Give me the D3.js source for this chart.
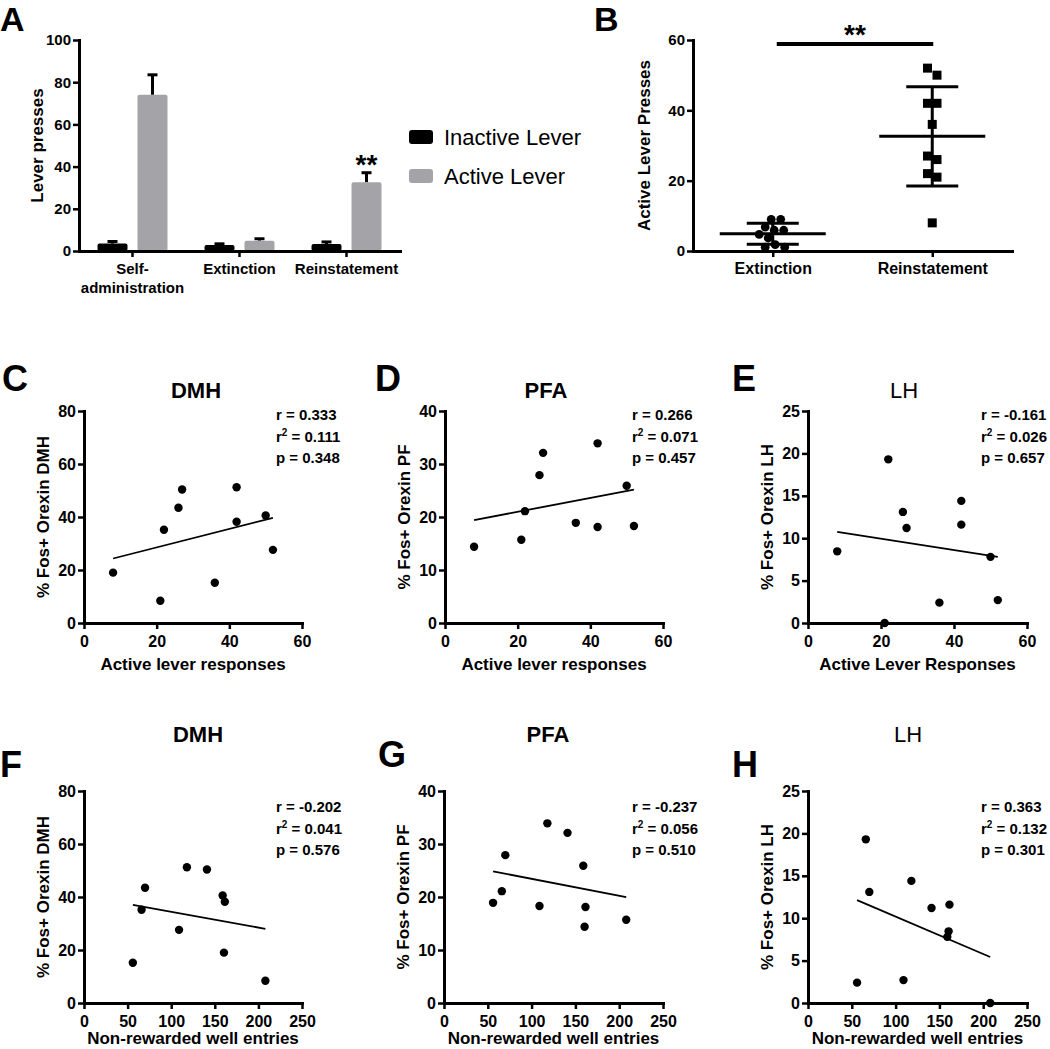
<!DOCTYPE html>
<html><head><meta charset="utf-8">
<script src="https://cdn.jsdelivr.net/npm/d3@7"></script>
<style>
body{margin:0;background:#fff}
svg{display:block}
</style></head><body>
<svg id="c" width="1050" height="1049"></svg>
<script>
// ---------------- DATA ----------------
// Panel A
const barCategories = ["Self-administration", "Extinction", "Reinstatement"];
const barCategoryLines = [["Self-", "administration"], ["Extinction"], ["Reinstatement"]];
const barSeries = ["Inactive Lever", "Active Lever"];
const inactiveMeans = [3.5, 2.8, 3.3];
const inactiveSEM = [1.0, 0.6, 1.0];
const activeMeans = [74, 4.9, 32.6];
const activeSEM = [9.5, 0.9, 4.5];
const barYTicks = [0, 20, 40, 60, 80, 100];
const barYLabel = "Lever presses";

// Panel B
const groupCategories = ["Extinction", "Reinstatement"];
const extinctionPresses = [9, 9, 6.8, 5.9, 5.9, 4.7, 3.7, 1.8, 1.1, 1.1];
const reinstatementPresses = [8, 21, 22, 26, 27, 36, 42, 42, 50, 52];
const groupYTicks = [0, 20, 40, 60];
const groupYLabel = "Active Lever Presses";

// Panels C-H (one value per rat)
const activeLever = [8, 21, 22, 26, 27, 36, 42, 42, 50, 52];
const wellEntries = [160.5, 208, 66, 70, 141, 56, 118, 161.5, 159, 109];
const fosDMH = [19.0, 8.4, 35.2, 43.5, 50.4, 15.2, 51.2, 38.2, 40.6, 27.6];
const fosPF = [14.4, 15.7, 21.1, 27.9, 32.1, 18.9, 33.9, 18.1, 25.9, 18.3];
const fosLH = [8.45, 0, 19.3, 13.1, 11.2, 2.4, 14.4, 11.6, 7.8, 2.7];

const leverTicks = [0, 20, 40, 60];
const wellTicks = [0, 50, 100, 150, 200, 250];
const dmhTicks = [0, 20, 40, 60, 80];
const pfTicks = [0, 10, 20, 30, 40];
const lhTicks = [0, 5, 10, 15, 20, 25];

const scatterLetters = ["C", "D", "E", "F", "G", "H"];
const scatterTitles = ["DMH", "PFA", "LH", "DMH", "PFA", "LH"];
const scatterYLabels = ["% Fos+ Orexin DMH", "% Fos+ Orexin PF", "% Fos+ Orexin LH",
                        "% Fos+ Orexin DMH", "% Fos+ Orexin PF", "% Fos+ Orexin LH"];
const scatterXLabels = ["Active lever responses", "Active lever responses", "Active Lever Responses",
                        "Non-rewarded well entries", "Non-rewarded well entries", "Non-rewarded well entries"];
const statR  = ["0.333", "0.266", "-0.161", "-0.202", "-0.237", "0.363"];
const statR2 = ["0.111", "0.071", "0.026", "0.041", "0.056", "0.132"];
const statP  = ["0.348", "0.457", "0.657", "0.576", "0.510", "0.301"];

// ---------------- LAYOUT / STYLE ----------------
const FONT = '"Liberation Sans", Arial, Helvetica, sans-serif';
const GRAY = "#a4a4a8";
const svg = d3.select("#c").attr("font-family", FONT);

function bold(sel) { return sel.attr("font-weight", "bold"); }

function styleAxis(g, fs) {
  g.attr("font-family", FONT);
  g.select(".domain").attr("stroke", "#000").attr("stroke-width", 3).attr("stroke-linecap", "square");
  g.selectAll(".tick line").attr("stroke", "#000").attr("stroke-width", 2.5);
  g.selectAll(".tick text").attr("fill", "#000").attr("font-size", fs).attr("font-weight", "bold");
}
function letter(t, x, y, fs) {
  bold(svg.append("text").attr("x", x).attr("y", y).attr("font-size", fs || 36)).text(t);
}
function yLabel(t, cx, cy, fs) {
  bold(svg.append("text").attr("transform", `translate(${cx},${cy}) rotate(-90)`)
    .attr("text-anchor", "middle").attr("dy", "0.35em")
    .attr("font-size", fs)).text(t);
}

// ---------------- PANEL A ----------------
(function () {
  const L = 79, R = 400, T = 40, B = 251;
  const x = d3.scaleBand().domain(barCategories).range([L, R]);
  const y = d3.scaleLinear().domain([0, 100]).range([B, T]);
  const bw = 30, off = 20;
  letter("A", 0, 31, 34);

  const g = svg.append("g");
  const series = [
    {name: barSeries[0], means: inactiveMeans, sem: inactiveSEM, color: "#000", dx: -off},
    {name: barSeries[1], means: activeMeans, sem: activeSEM, color: GRAY, dx: off}
  ];
  series.forEach(s => {
    g.selectAll(null).data(barCategories).enter().append("line")
      .attr("x1", c => x(c) + x.bandwidth() / 2 + s.dx).attr("x2", c => x(c) + x.bandwidth() / 2 + s.dx)
      .attr("y1", (c, i) => y(s.means[i])).attr("y2", (c, i) => y(s.means[i] + s.sem[i]))
      .attr("stroke", "#000").attr("stroke-width", 3);
    g.selectAll(null).data(barCategories).enter().append("line")
      .attr("x1", c => x(c) + x.bandwidth() / 2 + s.dx - 5).attr("x2", c => x(c) + x.bandwidth() / 2 + s.dx + 5)
      .attr("y1", (c, i) => y(s.means[i] + s.sem[i])).attr("y2", (c, i) => y(s.means[i] + s.sem[i]))
      .attr("stroke", "#000").attr("stroke-width", 3);
    g.selectAll(null).data(barCategories).enter().append("rect")
      .attr("x", c => x(c) + x.bandwidth() / 2 + s.dx - bw / 2)
      .attr("width", bw)
      .attr("y", (c, i) => y(s.means[i]))
      .attr("height", (c, i) => y(0) - y(s.means[i]))
      .attr("rx", 2)
      .attr("fill", s.color);
  });

  const ya = svg.append("g").attr("transform", `translate(${L},0)`)
    .call(d3.axisLeft(y).tickValues(barYTicks).tickSize(6).tickPadding(2).tickSizeOuter(0));
  styleAxis(ya, 15);
  const xa = svg.append("g").attr("transform", `translate(0,${B})`)
    .call(d3.axisBottom(x).tickSize(6).tickSizeOuter(0).tickFormat(""));
  styleAxis(xa, 15);
  barCategories.forEach((c, i) => {
    const t = bold(svg.append("text").attr("text-anchor", "middle").attr("font-size", 15));
    barCategoryLines[i].forEach((ln, j) => {
      t.append("tspan").attr("x", x(c) + x.bandwidth() / 2).attr("y", 273.5 + j * 19).text(ln);
    });
  });
  yLabel(barYLabel, 37, (T + B) / 2, 17);

  const ci = 2;
  bold(svg.append("text").attr("x", x(barCategories[ci]) + x.bandwidth() / 2 + off)
    .attr("y", y(activeMeans[ci] + activeSEM[ci]) + 1).attr("text-anchor", "middle")
    .attr("font-size", 28)).text("**");

  const lg = svg.append("g");
  series.forEach((s, i) => {
    const cy = 137 + i * 39;
    lg.append("rect").attr("x", 409).attr("y", cy - 7).attr("width", 24).attr("height", 14).attr("rx", 3).attr("fill", s.color);
    lg.append("text").attr("x", 444).attr("y", cy).attr("dy", "0.36em").attr("font-size", 22).text(s.name);
  });
})();

// ---------------- PANEL B ----------------
function beeswarm(values, yScale, size, shape) {
  const order = values.map((_, i) => i).sort((a, b) => values[b] - values[a]);
  const placed = [];
  const res = new Array(values.length);
  const collide = (p, px, py) => shape === "square"
    ? (Math.abs(p.x - px) < size && Math.abs(p.y - py) < size)
    : Math.hypot(p.x - px, p.y - py) < size;
  for (const i of order) {
    const py = yScale(values[i]);
    let found = null;
    for (let d = 0; d < 200 && found === null; d += 0.5) {
      for (const s of (d === 0 ? [0] : [1, -1])) {
        const px = s * d;
        if (!placed.some(p => collide(p, px, py))) { found = px; break; }
      }
    }
    const p = {x: found, y: py, i};
    placed.push(p);
    res[i] = p;
  }
  const parent = res.map((_, i) => i);
  const find = i => parent[i] === i ? i : (parent[i] = find(parent[i]));
  for (let a = 0; a < res.length; a++)
    for (let b = a + 1; b < res.length; b++)
      if (Math.abs(res[a].y - res[b].y) < size * 1.05) parent[find(a)] = find(b);
  const groups = d3.group(res.map((p, i) => i), i => find(i));
  for (const [, idx] of groups) {
    const m = d3.mean(idx, i => res[i].x);
    idx.forEach(i => res[i].x -= m);
  }
  return res;
}

(function () {
  const L = 693, R = 1012, T = 40, B = 251;
  const x = d3.scalePoint().domain(groupCategories).range([L, R]).padding(0.5);
  const y = d3.scaleLinear().domain([0, 60]).range([B, T]);
  letter("B", 594, 31, 34);

  const sets = [extinctionPresses, reinstatementPresses];
  const shapes = ["circle", "square"];
  const g = svg.append("g");
  sets.forEach((vals, k) => {
    const cx = x(groupCategories[k]);
    const m = d3.mean(vals), sd = d3.deviation(vals);
    const pos = beeswarm(vals, y, 9.5, shapes[k]);
    if (shapes[k] === "circle") {
      g.selectAll(null).data(pos).enter().append("circle")
        .attr("cx", p => cx + p.x).attr("cy", p => p.y).attr("r", 4.4).attr("fill", "#000");
    } else {
      g.selectAll(null).data(pos).enter().append("rect")
        .attr("x", p => cx + p.x - 4.5).attr("y", p => p.y - 4.5).attr("width", 9).attr("height", 9).attr("fill", "#000");
    }
    const ln = (x1, x2, y1, y2) => g.append("line").attr("x1", x1).attr("x2", x2).attr("y1", y1).attr("y2", y2)
      .attr("stroke", "#000").attr("stroke-width", 3);
    ln(cx - 53, cx + 53, y(m), y(m));
    ln(cx - 26, cx + 26, y(m + sd), y(m + sd));
    ln(cx - 26, cx + 26, y(m - sd), y(m - sd));
    ln(cx, cx, y(m - sd), y(m + sd));
  });

  const ya = svg.append("g").attr("transform", `translate(${L},0)`)
    .call(d3.axisLeft(y).tickValues(groupYTicks).tickSize(6).tickPadding(2).tickSizeOuter(0));
  styleAxis(ya, 15);
  const xa = svg.append("g").attr("transform", `translate(0,${B})`)
    .call(d3.axisBottom(x).tickSize(6).tickPadding(6).tickSizeOuter(0));
  styleAxis(xa, 16);
  yLabel(groupYLabel, 644, (T + B) / 2, 17);

  const x1 = x(groupCategories[0]) + 4, x2 = x(groupCategories[1]) + 1;
  svg.append("line").attr("x1", x1).attr("x2", x2).attr("y1", y(60) + 4).attr("y2", y(60) + 4)
    .attr("stroke", "#000").attr("stroke-width", 4);
  bold(svg.append("text").attr("x", (x1 + x2) / 2).attr("y", y(60) + 4).attr("text-anchor", "middle")
    .attr("font-size", 28)).text("**");
})();

// ---------------- PANELS C-H ----------------
const scatterX = [activeLever, activeLever, activeLever, wellEntries, wellEntries, wellEntries];
const scatterY = [fosDMH, fosPF, fosLH, fosDMH, fosPF, fosLH];
const scatterXTicks = [leverTicks, leverTicks, leverTicks, wellTicks, wellTicks, wellTicks];
const scatterYTicks = [dmhTicks, pfTicks, lhTicks, dmhTicks, pfTicks, lhTicks];
const layout = [
  {left: 84,  right: 302,  top: 411, bottom: 623,  letter: [2, 391],   title: [196, 398], tw: "bold",   stats: [276, 420]},
  {left: 445, right: 663,  top: 411, bottom: 623,  letter: [375, 391], title: [546, 398], tw: "bold",   stats: [632, 420]},
  {left: 808, right: 1027, top: 411, bottom: 623,  letter: [732, 391], title: [904, 398], tw: "normal", stats: [981, 420]},
  {left: 84,  right: 302,  top: 791, bottom: 1003, letter: [0, 777],   title: [198, 742], tw: "bold",   stats: [276, 812]},
  {left: 444, right: 663,  top: 791, bottom: 1003, letter: [378, 767], title: [548, 742], tw: "bold",   stats: [632, 812]},
  {left: 808, right: 1027, top: 791, bottom: 1003, letter: [732, 777], title: [908, 742], tw: "normal", stats: [981, 812]},
];

layout.forEach((P, k) => {
  const xv = scatterX[k], yv = scatterY[k];
  const xt = scatterXTicks[k], yt = scatterYTicks[k];
  const x = d3.scaleLinear().domain([0, d3.max(xt)]).range([P.left, P.right]);
  const y = d3.scaleLinear().domain([0, d3.max(yt)]).range([P.bottom, P.top]);

  letter(scatterLetters[k], P.letter[0], P.letter[1]);
  svg.append("text").attr("x", P.title[0]).attr("y", P.title[1]).attr("text-anchor", "middle")
    .attr("font-size", 22).attr("font-weight", P.tw).text(scatterTitles[k]);

  const ya = svg.append("g").attr("transform", `translate(${P.left},0)`)
    .call(d3.axisLeft(y).tickValues(yt).tickSize(6).tickPadding(2).tickSizeOuter(0));
  styleAxis(ya, 16);
  const xa = svg.append("g").attr("transform", `translate(0,${P.bottom})`)
    .call(d3.axisBottom(x).tickValues(xt).tickSize(6).tickPadding(7).tickSizeOuter(0));
  styleAxis(xa, 16);

  const mx = d3.mean(xv), my = d3.mean(yv);
  const sxy = d3.sum(xv, (v, i) => (v - mx) * (yv[i] - my));
  const sxx = d3.sum(xv, v => (v - mx) * (v - mx));
  const slope = sxy / sxx, icpt = my - slope * mx;
  const [x0, x1] = d3.extent(xv);
  svg.append("line").attr("x1", x(x0)).attr("x2", x(x1))
    .attr("y1", y(icpt + slope * x0)).attr("y2", y(icpt + slope * x1))
    .attr("stroke", "#000").attr("stroke-width", 1.8);

  svg.append("g").selectAll("circle").data(xv).enter().append("circle")
    .attr("cx", v => x(v)).attr("cy", (v, i) => y(yv[i])).attr("r", 4.2).attr("fill", "#000");

  const st = bold(svg.append("text").attr("font-size", 15));
  st.append("tspan").attr("x", P.stats[0]).attr("y", P.stats[1]).text(`r = ${statR[k]}`);
  st.append("tspan").attr("x", P.stats[0]).attr("y", P.stats[1] + 21.5).text("r");
  st.append("tspan").attr("dy", -6).attr("font-size", 10).text("2");
  st.append("tspan").attr("dy", 6).text(` = ${statR2[k]}`);
  st.append("tspan").attr("x", P.stats[0]).attr("y", P.stats[1] + 43).text(`p = ${statP[k]}`);

  bold(svg.append("text").attr("x", (P.left + P.right) / 2).attr("y", Math.min(P.bottom + 47, 1044)).attr("text-anchor", "middle")
    .attr("font-size", 17)).text(scatterXLabels[k]);
  yLabel(scatterYLabels[k], P.left - 41, (P.top + P.bottom) / 2, 17);
});
</script>
</body></html>
